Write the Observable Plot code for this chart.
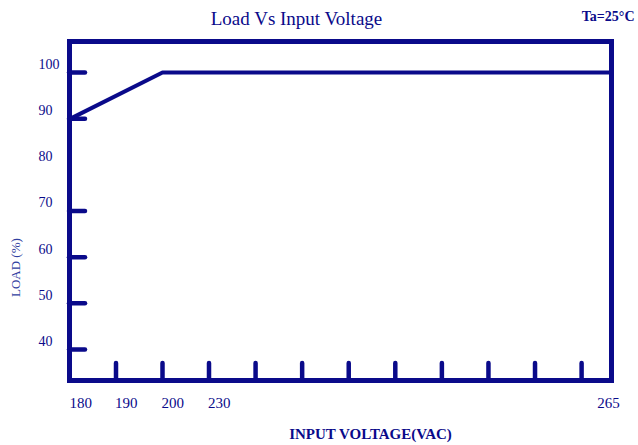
<!DOCTYPE html>
<html>
<head>
<meta charset="utf-8">
<script src="https://cdn.jsdelivr.net/npm/d3@7"></script>
<script src="https://cdn.jsdelivr.net/npm/@observablehq/plot@0.6"></script>
<style>
  html, body { margin: 0; padding: 0; background: #fff; }
  #chart svg { display: block; }
</style>
</head>
<body>
<div id="chart"></div>
<script>
// ---- data ----
const inputVoltage = [180, 200, 265];        // VAC
const loadPercent  = [90, 100, 100];         // %
const xLabelValues = [180, 190, 200, 230];   // labelled ticks (left-aligned)
const xEndLabel    = [265];                  // label at the right end
const xTickMarks   = [190, 200, 230, 234.05, 238.1, 242.15, 246.2, 250.25, 254.3, 258.35, 262.4];
const yLabelValues = [40, 50, 60, 70, 80, 90, 100];
const yTickMarks   = [40, 50, 60, 70, 90, 100];
const titleText = "Load Vs Input Voltage";
const tempText  = "Ta=25\u00B0C";
const xTitle    = "INPUT VOLTAGE(VAC)";
const yTitle    = "LOAD (%)";

const navy = "#0a0a8a";
const W = 638, H = 445;
const mL = 69, mR = 27, mT = 41, mB = 65;
const plotW = W - mL - mR, plotH = H - mT - mB;

const points = inputVoltage.map((v, i) => ({v, load: loadPercent[i]}));

const chart = Plot.plot({
  width: W,
  height: H,
  marginLeft: mL, marginRight: mR, marginTop: mT, marginBottom: mB,
  style: {fontFamily: "Liberation Serif", fontSize: "14px", color: navy, background: "#fff"},
  x: {type: "linear", domain: [180, 190, 200, 230, 265], range: [mL + 1, mL + 46.5, mL + 93, mL + 139.5, W - mR], axis: null},
  y: {domain: [33.3, 106.7], axis: null},
  marks: [
    // inward tick marks
    Plot.tickY(yTickMarks, {y: d => d, stroke: navy, strokeWidth: 4.5, strokeLinecap: "round", insetRight: plotW - 16}),
    Plot.tickX(xTickMarks, {x: d => d, stroke: navy, strokeWidth: 4.5, strokeLinecap: "round", insetTop: plotH - 17}),
    // tick labels
    Plot.axisY(yLabelValues, {anchor: "left", label: null, tickSize: 0, tickPadding: 31, textAnchor: "start", dy: -8, fontSize: 14, fill: navy}),
    Plot.axisX(xLabelValues, {anchor: "bottom", label: null, tickSize: 0, tickPadding: 17, textAnchor: "start", dx: -1, fontSize: 15, fill: navy}),
    Plot.axisX(xEndLabel, {anchor: "bottom", label: null, tickSize: 0, tickPadding: 17, textAnchor: "middle", dx: -3, fontSize: 15, fill: navy}),
    // data line
    Plot.line(points, {x: "v", y: "load", stroke: navy, strokeWidth: 4}),
    // frame
    Plot.frame({stroke: navy, strokeWidth: 5}),
    // titles
    Plot.text([titleText], {frameAnchor: "top", dx: -44, dy: -30, fontSize: 19, fill: navy}),
    Plot.text([tempText], {frameAnchor: "top-right", textAnchor: "end", dx: 23, dy: -30, fontSize: 14, fontWeight: "bold", fill: navy, letterSpacing: -0.8}),
    Plot.text([xTitle], {frameAnchor: "bottom", dx: 30, dy: 58, fontSize: 15, fontWeight: "bold", fill: navy, letterSpacing: -0.6}),
    Plot.text([yTitle], {frameAnchor: "left", rotate: -90, dx: -54, dy: 86, fontSize: 13, fill: "#3040a0"})
  ]
});
document.getElementById("chart").appendChild(chart);
</script>
</body>
</html>
